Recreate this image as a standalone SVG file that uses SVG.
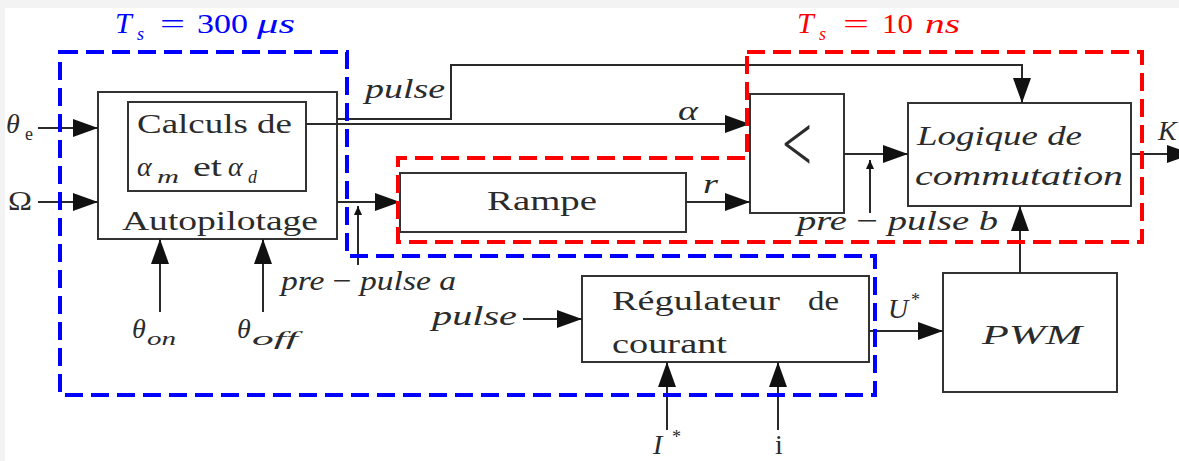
<svg xmlns="http://www.w3.org/2000/svg" width="1179" height="461" viewBox="0 0 1179 461">
<style>
text{font-family:"Liberation Serif","Times New Roman",serif;fill:#2b2b2b;font-size:28px}
.it{font-style:italic}
.sub{font-size:18px}
.big{font-size:30px}
.lt{font-size:80px}
.box{fill:#fff;stroke:#333;stroke-width:2}
.ln{fill:none;stroke:#2a2a2a;stroke-width:2}
.blue{fill:none;stroke:#0000ff;stroke-width:4;stroke-dasharray:18 8}
.red{fill:none;stroke:#ff0000;stroke-width:4;stroke-dasharray:18 8}
</style>
<defs>
<marker id="ah" markerUnits="userSpaceOnUse" markerWidth="26" markerHeight="18" refX="25" refY="9" orient="auto"><path d="M0,0 L25,9 L0,18 z" fill="#111"/></marker>
<marker id="as" markerUnits="userSpaceOnUse" markerWidth="9" markerHeight="8" refX="9" refY="4" orient="auto"><path d="M0,0 L9,4 L0,8 z" fill="#111"/></marker>
</defs>
<rect x="0" y="0" width="1179" height="461" fill="#f3f3f3"/>
<rect x="5" y="8" width="1174" height="453" fill="#fff"/>

<g id="title-blue"><text style="fill:#0000ff"><tspan class="it big" x="115" y="33">T</tspan><tspan class="it sub" x="137" y="40">s</tspan><tspan x="160" y="33" textLength="25" lengthAdjust="spacingAndGlyphs">=</tspan><tspan x="197" y="33" textLength="51" lengthAdjust="spacingAndGlyphs">300</tspan><tspan class="it" x="257" y="33" textLength="38" lengthAdjust="spacingAndGlyphs">μs</tspan></text></g>
<g id="title-red"><text style="fill:#ff0000"><tspan class="it big" x="797" y="33">T</tspan><tspan class="it sub" x="819" y="40">s</tspan><tspan x="843" y="33" textLength="26" lengthAdjust="spacingAndGlyphs">=</tspan><tspan x="882" y="33" textLength="31" lengthAdjust="spacingAndGlyphs">10</tspan><tspan class="it" x="925" y="33" textLength="35" lengthAdjust="spacingAndGlyphs">ns</tspan></text></g>

<g id="autopilotage">
<rect class="box" x="98" y="92" width="239" height="147"/>
<text x="122" y="230" textLength="196" lengthAdjust="spacingAndGlyphs">Autopilotage</text>
</g>
<g id="calculs">
<rect class="box" x="128" y="102" width="178" height="89"/>
<text x="137" y="133" textLength="155" lengthAdjust="spacingAndGlyphs">Calculs de</text>
<text><tspan class="it" x="137" y="176">α</tspan><tspan class="it sub" x="157" y="183" textLength="22" lengthAdjust="spacingAndGlyphs">m</tspan><tspan x="193" y="176" textLength="29" lengthAdjust="spacingAndGlyphs">et</tspan><tspan class="it" x="228" y="176">α</tspan><tspan class="it sub" x="248" y="183">d</tspan></text>
</g>
<g id="rampe">
<rect class="box" x="400" y="173" width="286" height="59"/>
<text x="487" y="210" textLength="110" lengthAdjust="spacingAndGlyphs">Rampe</text>
</g>
<g id="comparateur">
<rect class="box" x="750" y="94" width="94" height="119"/>
<text class="lt" x="782" y="171" textLength="30" lengthAdjust="spacingAndGlyphs">&lt;</text>
</g>
<g id="logique">
<rect class="box" x="908" y="103" width="223" height="103"/>
<text class="it" x="917" y="145" textLength="165" lengthAdjust="spacingAndGlyphs">Logique de</text>
<text class="it" x="915" y="185" textLength="208" lengthAdjust="spacingAndGlyphs">commutation</text>
</g>
<g id="regulateur">
<rect class="box" x="582" y="276" width="287" height="86"/>
<text><tspan x="612" y="310" textLength="168" lengthAdjust="spacingAndGlyphs">Régulateur</tspan><tspan x="808" y="310" textLength="31" lengthAdjust="spacingAndGlyphs">de</tspan></text>
<text x="612" y="353" textLength="115" lengthAdjust="spacingAndGlyphs">courant</text>
</g>
<g id="pwm">
<rect class="box" x="943" y="273" width="174" height="119"/>
<text class="it" x="982" y="344" textLength="100" lengthAdjust="spacingAndGlyphs">PWM</text>
</g>

<g id="labels">
<text><tspan class="it" x="6" y="133">θ</tspan><tspan class="sub" x="25" y="140">e</tspan></text>
<text x="8" y="210" textLength="24" lengthAdjust="spacingAndGlyphs">Ω</text>
<text class="it" x="365" y="98" textLength="80" lengthAdjust="spacingAndGlyphs">pulse</text>
<text class="it" x="678" y="120" textLength="20" lengthAdjust="spacingAndGlyphs">α</text>
<text class="it" x="703" y="193" textLength="15" lengthAdjust="spacingAndGlyphs">r</text>
<text x="797" y="230" textLength="201" lengthAdjust="spacingAndGlyphs"><tspan class="it">pre</tspan> − <tspan class="it">pulse b</tspan></text>
<text class="it" x="1158" y="140">K</text>
<text x="281" y="290" textLength="175" lengthAdjust="spacingAndGlyphs"><tspan class="it">pre</tspan> − <tspan class="it">pulse a</tspan></text>
<text class="it" x="432" y="325" textLength="85" lengthAdjust="spacingAndGlyphs">pulse</text>
<text><tspan class="it" x="132" y="338">θ</tspan><tspan class="it sub" x="147" y="345" textLength="29" lengthAdjust="spacingAndGlyphs">on</tspan></text>
<text><tspan class="it" x="237" y="338">θ</tspan><tspan class="it sub" x="252" y="345" textLength="46" lengthAdjust="spacingAndGlyphs">off</tspan></text>
<text><tspan class="it" x="888" y="318">U</tspan><tspan class="sub" x="911" y="306">*</tspan></text>
<text><tspan class="it" x="653" y="454">I</tspan><tspan class="sub" x="672" y="443">*</tspan></text>
<text x="775" y="454">i</text>
</g>

<g id="connectors">
<path class="ln" d="M38,128 H98" marker-end="url(#ah)"/>
<path class="ln" d="M38,202 H98" marker-end="url(#ah)"/>
<path class="ln" d="M337,119 H451 V65 H1022 V103" marker-end="url(#ah)"/>
<path class="ln" d="M306,124 H750" marker-end="url(#ah)"/>
<path class="ln" d="M337,202 H400" marker-end="url(#ah)"/>
<path class="ln" d="M358,265 V206" marker-end="url(#as)"/>
<path class="ln" d="M686,202 H750" marker-end="url(#ah)"/>
<path class="ln" d="M844,154 H908" marker-end="url(#ah)"/>
<path class="ln" d="M870,213 V160" marker-end="url(#as)"/>
<path class="ln" d="M1131,154 H1192" marker-end="url(#ah)"/>
<path class="ln" d="M1020,273 V206" marker-end="url(#ah)"/>
<path class="ln" d="M160,312 V239" marker-end="url(#ah)"/>
<path class="ln" d="M263,312 V239" marker-end="url(#ah)"/>
<path class="ln" d="M523,319 H582" marker-end="url(#ah)"/>
<path class="ln" d="M869,331 H943" marker-end="url(#ah)"/>
<path class="ln" d="M667,430 V362" marker-end="url(#ah)"/>
<path class="ln" d="M778,430 V362" marker-end="url(#ah)"/>
</g>

<g id="zones">
<path class="blue" d="M60,52 H347 V256 H875 V395 H60 Z"/>
<path class="red" d="M747,52 H1142 V242 H398 V158 H747 Z"/>
</g>
</svg>
